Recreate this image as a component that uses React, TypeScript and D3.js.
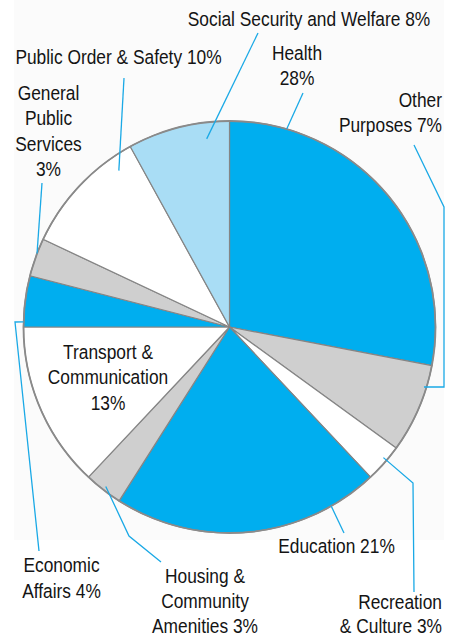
import React from "react";
import * as d3 from "d3";

const categories = [
  "Health",
  "Other Purposes",
  "Recreation & Culture",
  "Education",
  "Housing & Community Amenities",
  "Transport & Communication",
  "Economic Affairs",
  "General Public Services",
  "Public Order & Safety",
  "Social Security and Welfare",
];
const values = [28, 7, 3, 21, 3, 13, 4, 3, 10, 8];
const fills = ["#00aeef", "#cfcfcf", "#ffffff", "#00aeef", "#cfcfcf", "#ffffff", "#00aeef", "#cfcfcf", "#ffffff", "#a9ddf5"];

// label text lines
const labelLines = [
  ["Health", "28%"],
  ["Other", "Purposes 7%"],
  ["Recreation", "& Culture 3%"],
  ["Education 21%"],
  ["Housing &", "Community", "Amenities 3%"],
  ["Transport &", "Communication", "13%"],
  ["Economic", "Affairs 4%"],
  ["General", "Public", "Services", "3%"],
  ["Public Order & Safety 10%"],
  ["Social Security and Welfare 8%"],
];

// layout (annotation positions)
const labelPos: [number, number, string][] = [
  [297, 60, "middle"],
  [442, 107, "end"],
  [442, 609, "end"],
  [336.5, 553, "middle"],
  [205, 583, "middle"],
  [108, 359, "middle"],
  [61.5, 572, "middle"],
  [48.5, 100, "middle"],
  [118.5, 64, "middle"],
  [309, 26, "middle"],
];
const lineHeights = [25.5, 25, 24.5, 25.5, 25, 25.5, 26, 25.5, 25.5, 25.5];
// leader polylines: outer points (layout), the inner anchor is computed from the slice
const leaderOuter: ([number, number][] | null)[] = [
  [[303, 93]],
  [[424, 387], [444, 387], [444, 207], [414, 145]],
  [[413, 483], [414, 592]],
  [[344, 533]],
  [[129, 536], [161, 562]],
  null,
  [[15, 322], [39, 551]],
  [[42, 183]],
  [[124, 78]],
  [[258, 33]],
];
// anchor: fraction along slice, fraction of radius
const anchorT = [0.16, 0.25, 0.4, 0.18, 0.5, 0, 0.1, 0.6, 0.82, 0.76];
const anchorR = [1.0, 0.99, 0.98, 1.0, 0.98, 0, 1.0, 1.0, 0.93, 0.92];

const W = 459, H = 639;
const cx = 229.5, cy = 327, R = 206;

export default function App() {
  const pie = d3.pie<number>().sort(null).value((d) => d);
  const arcs = pie(values);
  const arc = d3.arc<d3.PieArcDatum<number>>().innerRadius(0).outerRadius(R);
  const font = "'Liberation Sans', Arial, sans-serif";
  const sx = 0.89;

  return (
    <svg width={W} height={H} style={{ position: "absolute", left: 0, top: 0, background: "#fff" }}>
      <rect x={14} y={0} width={430} height={540} fill="#fbfbfb" />
      <g transform={`translate(${cx},${cy})`}>
        {arcs.map((a, i) => (
          <path key={categories[i]} d={arc(a) || ""} fill={fills[i]} stroke="#858585" strokeWidth={1.2} strokeLinejoin="round" />
        ))}
        <circle r={R} fill="none" stroke="#8a8a8a" strokeWidth={1.8} />
      </g>
      {arcs.map((a, i) => {
        const outer = leaderOuter[i];
        if (!outer) return null;
        const ang = a.startAngle + (a.endAngle - a.startAngle) * anchorT[i];
        const r = R * anchorR[i];
        const p: [number, number] = [cx + r * Math.sin(ang), cy - r * Math.cos(ang)];
        const pts = [p, ...outer];
        return (
          <polyline key={"l" + i} points={pts.map((q) => q.join(",")).join(" ")} fill="none" stroke="#1aa9e6" strokeWidth={1.3} />
        );
      })}
      {labelLines.map((lines, i) => (
        <text
          key={"t" + i}
          transform={`translate(${labelPos[i][0]},${labelPos[i][1]}) scale(${sx},1)`}
          textAnchor={labelPos[i][2] as any}
          fontFamily={font}
          fontSize={19.5}
          fill="#141414"
        >
          {lines.map((s, j) => (
            <tspan key={j} x={0} y={j * lineHeights[i]}>{s}</tspan>
          ))}
        </text>
      ))}
    </svg>
  );
}
